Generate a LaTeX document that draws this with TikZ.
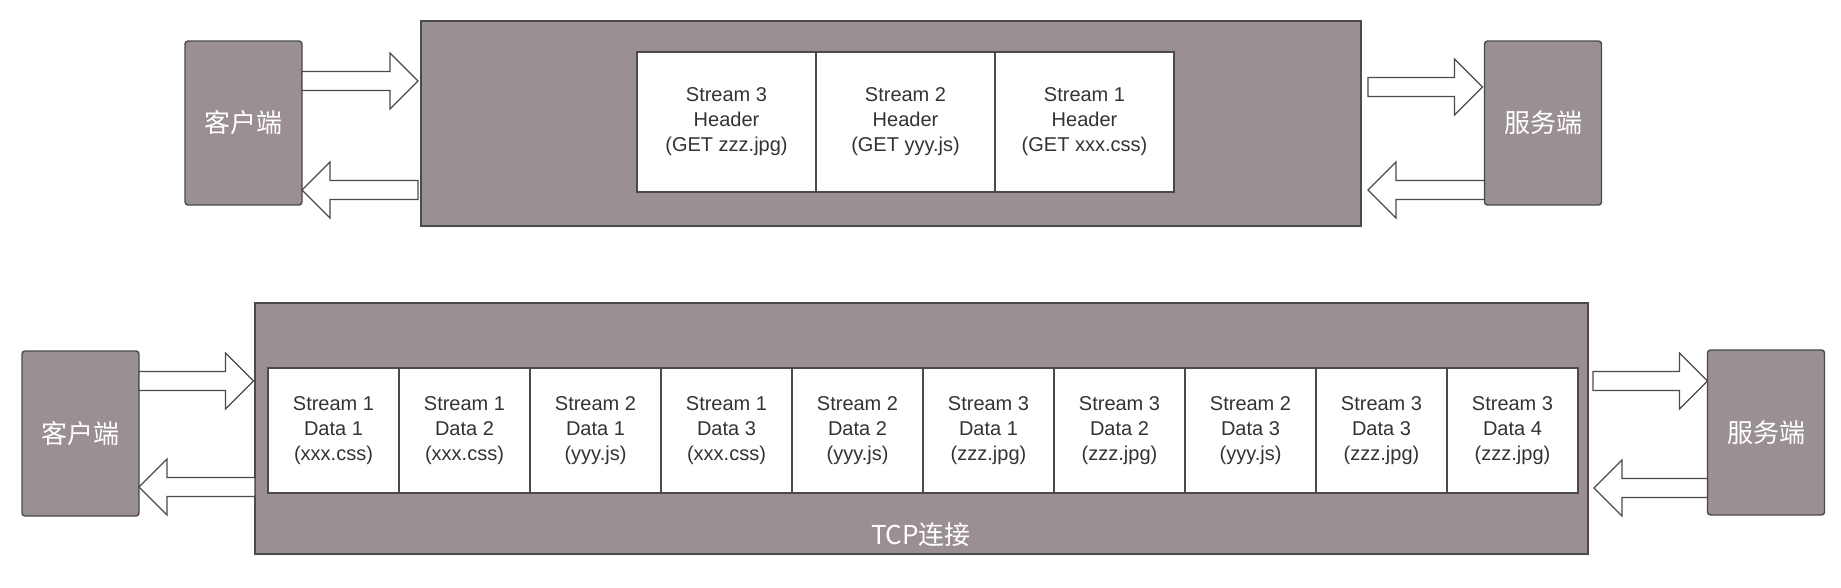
\documentclass[tikz,border=0pt]{standalone}
\usepackage{fontspec}
\setmainfont{Liberation Sans}
\newfontfamily\cjkfont{Noto Sans CJK SC}
\usetikzlibrary{calc,positioning}

\definecolor{boxgray}{HTML}{9A8F94}
\definecolor{edgegray}{HTML}{4A4A4A}
\definecolor{textgray}{HTML}{333333}

% hollow block arrow, drawn along the y of the first point
\newcommand{\fatarrow}[2]{%
  \draw[fat] let \p1=(#1), \p2=(#2), \n1={ifthenelse(\x2>\x1,1,-1)} in
    (\x1,\y1+9.5pt) -- ({\x2-28pt*\n1},\y1+9.5pt) -- ({\x2-28pt*\n1},\y1+28pt)
    -- (\x2,\y1) -- ({\x2-28pt*\n1},\y1-28pt) -- ({\x2-28pt*\n1},\y1-9.5pt)
    -- (\x1,\y1-9.5pt) -- cycle;}

\begin{document}
\begin{tikzpicture}[x=1pt, y=-1pt,
    host/.style={draw=edgegray, line width=1.4pt, fill=boxgray, rounded corners=3pt,
      minimum width=117pt, minimum height=164pt, inner sep=0pt, outer sep=0pt,
      text=white, font=\cjkfont\fontsize{26}{30}\selectfont},
    conn/.style={draw=edgegray, line width=1.6pt, fill=boxgray, inner sep=0pt, outer sep=0pt},
    cell/.style={draw=edgegray, line width=1.2pt, fill=white, inner sep=0pt, outer sep=0pt,
      align=center, text=textgray, font=\fontsize{20}{25}\selectfont},
    fat/.style={draw=edgegray, line width=1.2pt, fill=white, line join=miter}]
    \useasboundingbox (0,0) rectangle (1841,587);

    % top: headers
    \node[conn, minimum width=940pt, minimum height=205pt] (conn1) at (891,123.5) {};
    \node[host] (cli1) at (243.5,123) {客户端};
    \node[host] (srv1) at (1543,123) {服务端};
    \foreach \n/\f [count=\i] in {3/GET zzz.jpg, 2/GET yyy.js, 1/GET xxx.css}
      \node[cell, minimum width=179pt, minimum height=140pt] (h\i)
        at ({637+179*(\i-0.5)},122) {Stream \n\\Header\\(\f)};

    \fatarrow{[yshift=42pt]cli1.east}{[xshift=-3pt]conn1.west}
    \fatarrow{[yshift=-66.5pt,xshift=-3pt]conn1.west}{cli1.east}
    \fatarrow{[yshift=36.5pt,xshift=7pt]conn1.east}{[xshift=-2pt]srv1.west}
    \fatarrow{[yshift=-67pt]srv1.west}{[xshift=7pt]conn1.east}

    % bottom: data frames on one connection
    \node[conn, minimum width=1333pt, minimum height=251pt] (conn2) at (921.5,428.5) {};
    \node[host, minimum height=165pt] (cli2) at (80.5,433.5) {客户端};
    \node[host, minimum height=165pt] (srv2) at (1766,432.5) {服务端};
    \foreach \s/\d/\f [count=\i] in {1/1/xxx.css, 1/2/xxx.css, 2/1/yyy.js, 1/3/xxx.css,
        2/2/yyy.js, 3/1/zzz.jpg, 3/2/zzz.jpg, 2/3/yyy.js, 3/3/zzz.jpg, 3/4/zzz.jpg}
      \node[cell, minimum width=131pt, minimum height=125pt] (d\i)
        at ({268+131*(\i-0.5)},430.5) {Stream \s\\Data \d\\(\f)};
    \node[text=white, font=\cjkfont\fontsize{26}{30}\selectfont] (tcp) at (921,535) {TCP连接};

    \fatarrow{[yshift=52.5pt]cli2.east}{[xshift=-1.5pt]conn2.west}
    \fatarrow{[yshift=-58.5pt]conn2.west}{cli2.east}
    \fatarrow{[yshift=47.5pt,xshift=5pt]conn2.east}{srv2.west}
    \fatarrow{[yshift=-55.5pt]srv2.west}{[xshift=6pt]conn2.east}
\end{tikzpicture}
\end{document}
